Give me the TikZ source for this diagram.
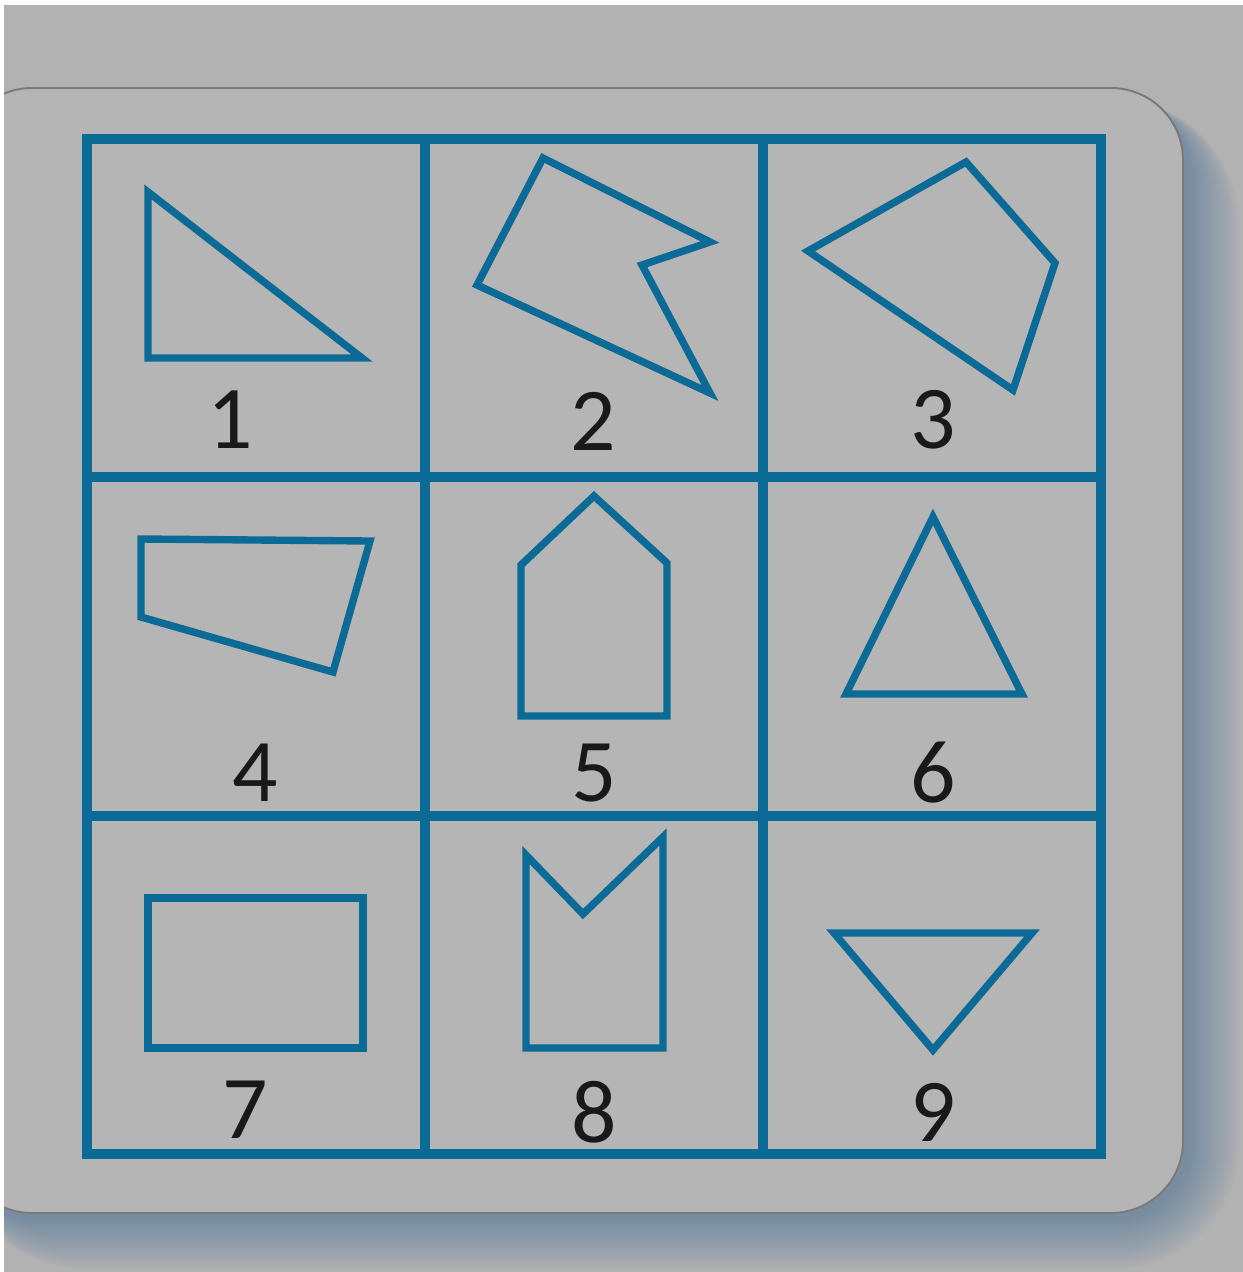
\documentclass[tikz,border=0pt]{standalone}
\usepackage{fontspec}
\setmainfont{Carlito}
\usepackage{tikz}
\usetikzlibrary{positioning}
\definecolor{gridblue}{RGB}{12,106,150}
\definecolor{backdrop}{RGB}{178,178,178}
\definecolor{paper}{RGB}{181,181,181}
\definecolor{cardedge}{RGB}{122,122,122}
\definecolor{shadowblue}{RGB}{70,115,155}
\tikzset{
  gridline/.style={draw=gridblue, line width=5.2pt},
  figline/.style={draw=gridblue, line width=4.2pt, line join=miter},
  digit/.style={font=\fontsize{51}{51}\selectfont, text=black!90, inner sep=0pt}
}

\begin{document}
\begin{tikzpicture}[x=0.02cm, y=-0.02cm]

    % --- Page and card ---
    \useasboundingbox (0,0) rectangle (1243,1272);
    \fill[backdrop] (0,0) rectangle (1243,1272);

    % soft blue shadow
    \foreach \s in {0,3,...,51} {
        \pgfmathsetmacro\rr{1.44+\s*0.02}
        \fill[shadowblue, opacity=0.036, rounded corners=\rr cm]
            (-40,100) rectangle (1188+\s,1218+\s);
    }

    % card with rounded right corners
    \filldraw[fill=paper, draw=cardedge, line width=1.1pt, rounded corners=1.44cm]
        (-40,88) rectangle (1183,1213);

    % --- Grid ---
    \draw[gridline] (87,139) rectangle (1101,1154);
    \draw[gridline] (425,139) -- (425,1154);
    \draw[gridline] (763,139) -- (763,1154);
    \draw[gridline] (87,477) -- (1101,477);
    \draw[gridline] (87,816) -- (1101,816);

    % --- Row 1 ---
    \draw[figline] (148,192) -- (148,358) -- (362,358) -- cycle;
    \draw[figline] (543,158) -- (710,242) -- (642,265) -- (710,393) -- (477,285) -- cycle;
    \draw[figline] (808,251) -- (966,162) -- (1055,263) -- (1013,390) -- cycle;
    \node[digit] (n1) at (230,420) {1};
    \node[digit] (n2) at (593,421) {2};
    \node[digit] (n3) at (933,420) {3};

    % --- Row 2 ---
    \draw[figline] (141,539) -- (370,541) -- (333,672) -- (141,617) -- cycle;
    \draw[figline] (594,496) -- (667,563) -- (667,716) -- (521,716) -- (521,565) -- cycle;
    \draw[figline] (933,517) -- (1022,694) -- (846,694) -- cycle;
    \node[digit] (n4) at (255,773) {4};
    \node[digit] (n5) at (594,773) {5};
    \node[digit] (n6) at (933,773) {6};

    % --- Row 3 ---
    \draw[figline] (148,898) rectangle (363,1048);
    \draw[figline] (526,855) -- (583,914) -- (663,837) -- (663,1048) -- (526,1048) -- cycle;
    \draw[figline] (834,933) -- (1032,933) -- (933,1050) -- cycle;
    \node[digit] (n7) at (245,1110) {7};
    \node[digit] (n8) at (594,1112) {8};
    \node[digit] (n9) at (933,1112) {9};

    % white strip at the top and left edges
    \fill[white] (0,0) rectangle (1243,5);
    \fill[white] (0,0) rectangle (4,1272);

\end{tikzpicture}
\end{document}
